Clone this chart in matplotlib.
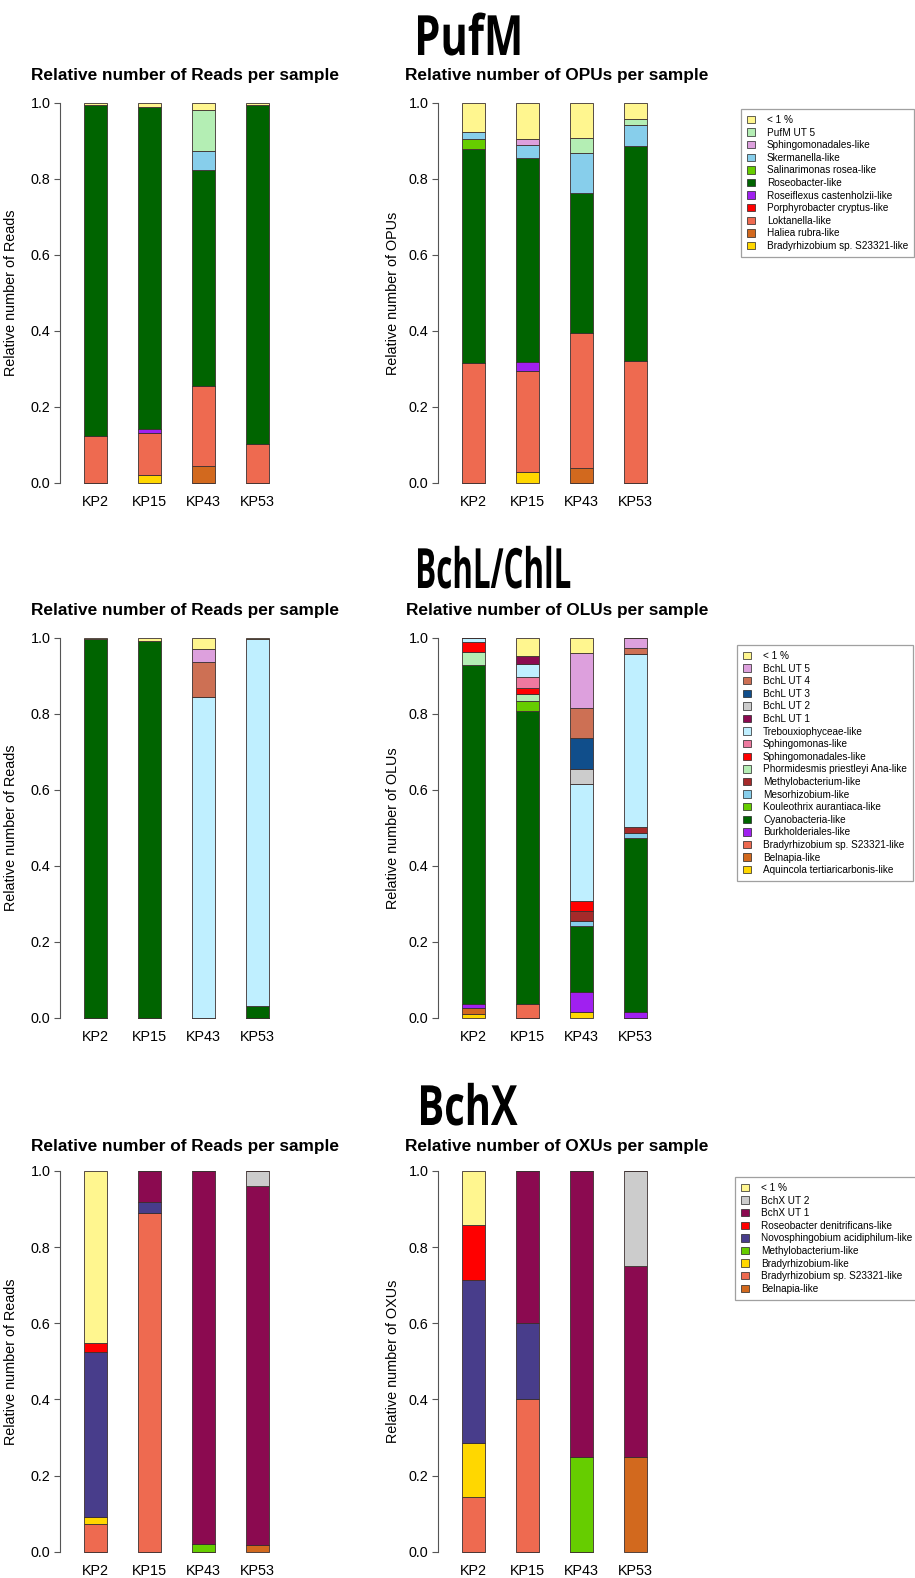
import matplotlib
matplotlib.use("Agg")
import matplotlib.pyplot as plt
import numpy as np
from matplotlib.patches import Patch
from matplotlib.patheffects import AbstractPathEffect
from matplotlib.transforms import Affine2D

W, H = 915, 1578
plt.rcParams['font.family'] = ['Liberation Sans', 'DejaVu Sans']

samples = ["KP2", "KP15", "KP43", "KP53"]
yticks = [0.0, 0.2, 0.4, 0.6, 0.8, 1.0]
ytick_labels = ["0.0", "0.2", "0.4", "0.6", "0.8", "1.0"]

# ---------------- PufM ----------------
pufm_taxa = ["Bradyrhizobium sp. S23321-like", "Haliea rubra-like", "Loktanella-like",
             "Porphyrobacter cryptus-like", "Roseiflexus castenholzii-like", "Roseobacter-like",
             "Salinarimonas rosea-like", "Skermanella-like", "Sphingomonadales-like",
             "PufM UT 5", "< 1 %"]
pufm_colors = ["#FFD700", "#D2691E", "#EE6A50", "#FF0000", "#A020F0", "#006400",
               "#66CD00", "#87CEEB", "#DDA0DD", "#B4EEB4", "#FFF68F"]
# rows: taxa, columns: KP2, KP15, KP43, KP53
pufm_reads = [
    [0.000, 0.020, 0.000, 0.000],
    [0.000, 0.000, 0.046, 0.000],
    [0.125, 0.111, 0.210, 0.102],
    [0.000, 0.000, 0.000, 0.000],
    [0.000, 0.011, 0.000, 0.000],
    [0.870, 0.848, 0.567, 0.893],
    [0.000, 0.000, 0.000, 0.000],
    [0.000, 0.000, 0.050, 0.000],
    [0.000, 0.000, 0.000, 0.000],
    [0.000, 0.000, 0.109, 0.000],
    [0.005, 0.010, 0.018, 0.005],
]
pufm_units = [
    [0.000, 0.028, 0.000, 0.000],
    [0.000, 0.000, 0.040, 0.000],
    [0.315, 0.268, 0.356, 0.320],
    [0.000, 0.000, 0.000, 0.000],
    [0.000, 0.023, 0.000, 0.000],
    [0.565, 0.537, 0.368, 0.568],
    [0.024, 0.000, 0.000, 0.000],
    [0.021, 0.034, 0.105, 0.053],
    [0.000, 0.016, 0.000, 0.000],
    [0.000, 0.000, 0.040, 0.016],
    [0.075, 0.094, 0.091, 0.043],
]

# ---------------- BchL/ChlL ----------------
bchl_taxa = ["Aquincola tertiaricarbonis-like", "Belnapia-like", "Bradyrhizobium sp. S23321-like",
             "Burkholderiales-like", "Cyanobacteria-like", "Kouleothrix aurantiaca-like",
             "Mesorhizobium-like", "Methylobacterium-like", "Phormidesmis priestleyi Ana-like",
             "Sphingomonadales-like", "Sphingomonas-like", "Trebouxiophyceae-like",
             "BchL UT 1", "BchL UT 2", "BchL UT 3", "BchL UT 4", "BchL UT 5", "< 1 %"]
bchl_colors = ["#FFD700", "#D2691E", "#EE6A50", "#A020F0", "#006400", "#66CD00",
               "#87CEEB", "#A52A2A", "#B4EEB4", "#FF0000", "#EE799F", "#BFEFFF",
               "#8B0A50", "#CCCCCC", "#104E8B", "#CD7054", "#DDA0DD", "#FFF68F"]
bchl_reads = [
    [0.000, 0.000, 0.000, 0.000],
    [0.000, 0.000, 0.000, 0.000],
    [0.000, 0.000, 0.000, 0.000],
    [0.000, 0.000, 0.000, 0.000],
    [0.996, 0.991, 0.000, 0.032],
    [0.000, 0.000, 0.000, 0.000],
    [0.000, 0.000, 0.000, 0.000],
    [0.000, 0.000, 0.000, 0.000],
    [0.000, 0.000, 0.000, 0.000],
    [0.000, 0.000, 0.000, 0.000],
    [0.000, 0.000, 0.000, 0.000],
    [0.000, 0.000, 0.845, 0.964],
    [0.000, 0.000, 0.000, 0.000],
    [0.000, 0.000, 0.000, 0.000],
    [0.000, 0.000, 0.000, 0.000],
    [0.000, 0.000, 0.090, 0.000],
    [0.000, 0.000, 0.035, 0.000],
    [0.004, 0.009, 0.030, 0.004],
]
bchl_units = [
    [0.011, 0.000, 0.014, 0.000],
    [0.014, 0.000, 0.000, 0.000],
    [0.000, 0.035, 0.000, 0.000],
    [0.012, 0.000, 0.053, 0.016],
    [0.891, 0.772, 0.174, 0.456],
    [0.000, 0.026, 0.000, 0.000],
    [0.000, 0.000, 0.013, 0.013],
    [0.000, 0.000, 0.027, 0.018],
    [0.035, 0.018, 0.000, 0.000],
    [0.026, 0.017, 0.026, 0.000],
    [0.000, 0.029, 0.000, 0.000],
    [0.011, 0.033, 0.307, 0.453],
    [0.000, 0.021, 0.000, 0.000],
    [0.000, 0.000, 0.040, 0.000],
    [0.000, 0.000, 0.081, 0.000],
    [0.000, 0.000, 0.079, 0.016],
    [0.000, 0.000, 0.147, 0.028],
    [0.000, 0.049, 0.039, 0.000],
]

# ---------------- BchX ----------------
bchx_taxa = ["Belnapia-like", "Bradyrhizobium sp. S23321-like", "Bradyrhizobium-like",
             "Methylobacterium-like", "Novosphingobium acidiphilum-like",
             "Roseobacter denitrificans-like", "BchX UT 1", "BchX UT 2", "< 1 %"]
bchx_colors = ["#D2691E", "#EE6A50", "#FFD700", "#66CD00", "#483D8B", "#FF0000",
               "#8B0A50", "#CCCCCC", "#FFF68F"]
bchx_reads = [
    [0.000, 0.000, 0.000, 0.018],
    [0.074, 0.889, 0.000, 0.000],
    [0.018, 0.000, 0.000, 0.000],
    [0.000, 0.000, 0.019, 0.000],
    [0.433, 0.030, 0.000, 0.000],
    [0.022, 0.000, 0.000, 0.000],
    [0.000, 0.081, 0.981, 0.943],
    [0.000, 0.000, 0.000, 0.039],
    [0.453, 0.000, 0.000, 0.000],
]
bchx_units = [
    [0.000, 0.000, 0.000, 0.250],
    [0.143, 0.400, 0.000, 0.000],
    [0.143, 0.000, 0.000, 0.000],
    [0.000, 0.000, 0.250, 0.000],
    [0.428, 0.200, 0.000, 0.000],
    [0.143, 0.000, 0.000, 0.000],
    [0.000, 0.400, 0.750, 0.500],
    [0.000, 0.000, 0.000, 0.250],
    [0.143, 0.000, 0.000, 0.000],
]

fig = plt.figure(figsize=(W / 100, H / 100), dpi=100)


class Squeeze(AbstractPathEffect):
    """Horizontally compress text about its left edge (condensed heavy look)."""
    def __init__(self, sx):
        super().__init__()
        self.sx = sx

    def draw_path(self, renderer, gc, tpath, affine, rgbFace=None):
        ext = tpath.get_extents(affine)
        x0 = ext.x0
        aff = affine + Affine2D().translate(-x0, 0).scale(self.sx, 1).translate(x0, 0)
        renderer.draw_path(gc, tpath, aff, rgbFace)


def fx(x):
    return x / W


def fy(y):
    return 1 - y / H


UNIT = 54.0
XL = (-0.65, 3.65)


def panel(left_center0, top, bottom, values, colors, ylabel, ylabel_x):
    left = left_center0 + XL[0] * UNIT
    width = (XL[1] - XL[0]) * UNIT
    ax = fig.add_axes([fx(left), fy(bottom), width / W, (bottom - top) / H])
    x = np.arange(len(samples))
    base = np.zeros(len(samples))
    for vals, col in zip(values, colors):
        vals = np.array(vals)
        ax.bar(x, vals, width=0.415, bottom=base, color=col, edgecolor="#3c3030",
               linewidth=0.6, clip_on=False)
        base = base + vals
    ax.set_xlim(*XL)
    ax.set_ylim(0, 1)
    for s in ["top", "right", "bottom"]:
        ax.spines[s].set_visible(False)
    ax.spines["left"].set_bounds(0, 1)
    ax.spines["left"].set_color("#555555")
    ax.spines["left"].set_linewidth(0.8)
    ax.set_yticks(yticks)
    ax.set_yticklabels(ytick_labels, fontsize=10.4)
    ax.tick_params(axis="y", length=4.3, width=0.8, color="#555555", pad=3)
    ax.set_xticks(x)
    ax.set_xticklabels(samples, fontsize=10.4)
    ax.tick_params(axis="x", length=0, pad=9)
    ax.set_ylabel(ylabel, fontsize=10.4)
    ax.yaxis.set_label_coords((ylabel_x - left) / width, 0.5)
    ax.patch.set_alpha(0)
    return ax


def legend(taxa, colors, top, left):
    handles = [Patch(facecolor=c, edgecolor="#222222", linewidth=0.5) for c in colors[::-1]]
    leg = fig.legend(handles, taxa[::-1], loc="upper left",
                     bbox_to_anchor=(fx(left), fy(top)), bbox_transform=fig.transFigure,
                     fontsize=7.2, frameon=True, fancybox=False, borderaxespad=0,
                     handlelength=0.8, handleheight=0.75, handletextpad=1.2,
                     labelspacing=0.26, borderpad=0.6)
    leg.get_frame().set_edgecolor("#888888")
    leg.get_frame().set_linewidth(0.9)
    return leg


def big_title(text, x, baseline, target_w):
    t = fig.text(fx(x), fy(baseline), text, fontsize=40, fontweight="bold",
                 family=["Open Sans", "DejaVu Sans"], ha="left", va="baseline")
    fig.canvas.draw()
    nat = t.get_window_extent().width
    t.set_path_effects([Squeeze(target_w / nat)])


rows = [
    dict(name="PufM", tx=413, tb=55, tw=109, top=103, bottom=483, st=75.5,
         unit="OPUs", reads=pufm_reads, units=pufm_units, colors=pufm_colors,
         taxa=pufm_taxa, leg_top=109, leg_left=741),
    dict(name="BchL/ChlL", tx=413, tb=588, tw=156, top=637.7, bottom=1017.7, st=610.5,
         unit="OLUs", reads=bchl_reads, units=bchl_units, colors=bchl_colors,
         taxa=bchl_taxa, leg_top=645, leg_left=737),
    dict(name="BchX", tx=416, tb=1125, tw=100, top=1171, bottom=1551.7, st=1147,
         unit="OXUs", reads=bchx_reads, units=bchx_units, colors=bchx_colors,
         taxa=bchx_taxa, leg_top=1177, leg_left=735),
]

for r in rows:
    panel(95.5, r["top"], r["bottom"], r["reads"], r["colors"],
          "Relative number of Reads", 18)
    panel(473.5, r["top"], r["bottom"], r["units"], r["colors"],
          "Relative number of " + r["unit"], 400)
    fig.text(fx(185), fy(r["st"]), "Relative number of Reads per sample",
             fontsize=12.4, fontweight="bold", ha="center", va="center")
    fig.text(fx(557), fy(r["st"]), "Relative number of %s per sample" % r["unit"],
             fontsize=12.4, fontweight="bold", ha="center", va="center")
    legend(r["taxa"], r["colors"], r["leg_top"], r["leg_left"])

for r in rows:
    big_title(r["name"], r["tx"], r["tb"], r["tw"])

fig.savefig("out.png", dpi=100)
